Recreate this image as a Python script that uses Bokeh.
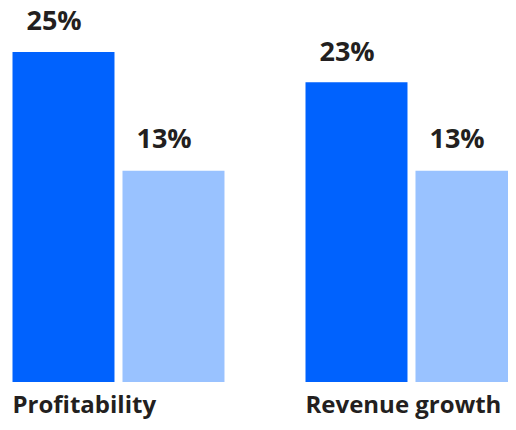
from bokeh.plotting import figure
from bokeh.models import Range1d, ColumnDataSource
from bokeh.core.properties import value
from bokeh.transform import dodge
from bokeh.embed import file_html
from bokeh.resources import INLINE

# ---- data ----
categories = ["Profitability", "Revenue growth"]
dark_values = [25, 22.7]          # bar heights as drawn (first series)
light_values = [16, 16]           # bar heights as drawn (second series)
dark_labels = ["25%", "23%"]
light_labels = ["13%", "13%"]

DARK = "#0062fe"
LIGHT = "#99c2ff"
TEXT = "#231f20"

group = list(range(len(categories)))
src = ColumnDataSource(dict(g=group, cat=categories,
                            dark=dark_values, light=light_values,
                            dl=dark_labels, ll=light_labels,
                            zero=[0] * len(categories)))

p = figure(width=508, height=422, output_backend="svg", toolbar_location=None,
           x_range=Range1d(-0.4027, 1.3311), y_range=Range1d(-3.068, 28.90),
           min_border=0, min_border_left=0, min_border_right=0,
           min_border_top=0, min_border_bottom=0)

OFF = 0.1877
W = 0.3481
p.vbar(x=dodge("g", -OFF), top="dark", bottom=0, width=W, color=DARK,
       line_color=None, source=src)
p.vbar(x=dodge("g", OFF), top="light", bottom=0, width=W, color=LIGHT,
       line_color=None, source=src)

lbl = dict(text_font=value("Open Sans"), text_font_style="bold", text_font_size="27px",
           text_color=TEXT, text_align="left", text_baseline="middle")
p.text(x=dodge("g", -OFF), y="dark", text="dl", source=src, x_offset=-37, y_offset=-32, **lbl)
p.text(x=dodge("g", OFF), y="light", text="ll", source=src, x_offset=-37, y_offset=-33, **lbl)

p.text(x=dodge("g", -OFF), y="zero", text="cat", source=src, x_offset=-51, y_offset=21,
       text_font=value("Open Sans"), text_font_style="bold", text_font_size="24px",
       text_color=TEXT, text_align="left", text_baseline="middle")

p.axis.visible = False
p.grid.visible = False
p.outline_line_color = None
p.background_fill_color = "white"
p.border_fill_color = "white"

open("out.html", "w").write(file_html(p, INLINE))
